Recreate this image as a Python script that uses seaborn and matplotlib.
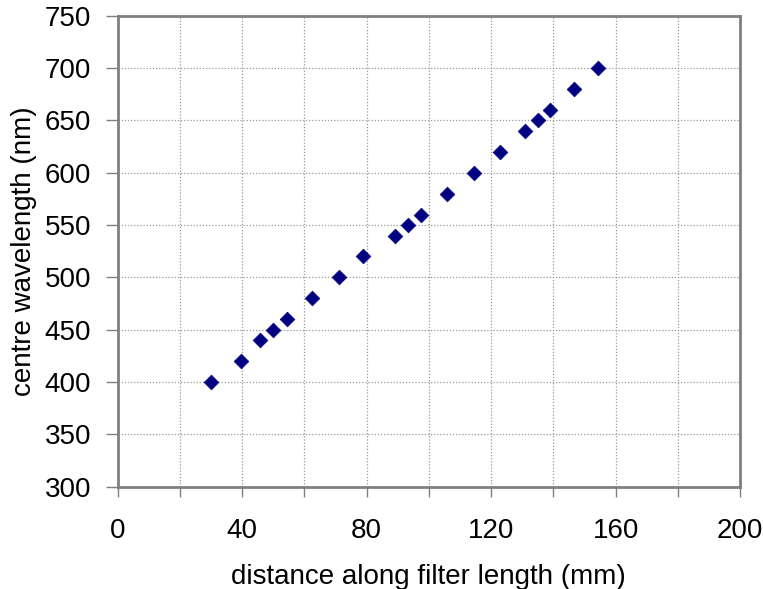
import matplotlib
matplotlib.use("Agg")
import matplotlib.pyplot as plt
import seaborn as sns
import pandas as pd
from matplotlib.ticker import MultipleLocator

distance_mm = [30.0, 39.7, 45.9, 50.0, 54.4, 62.4, 71.1, 78.8, 89.1, 93.2, 97.4,
               105.8, 114.5, 122.8, 130.9, 135.0, 138.9, 146.6, 154.5]
wavelength_nm = [400, 420, 440, 450, 460, 480, 500, 520, 540, 550, 560,
                 580, 600, 620, 640, 650, 660, 680, 700]

df = pd.DataFrame({"distance": distance_mm, "wavelength": wavelength_nm})

sns.set_theme(style="white")
plt.rcParams['font.family'] = ['Liberation Sans', 'DejaVu Sans']

fig = plt.figure(figsize=(7.63, 5.89), dpi=100)
ax = fig.add_axes([0.154, 0.174, 0.816, 0.799])

sns.scatterplot(data=df, x="distance", y="wavelength", marker="D", s=56,
                color="#000080", edgecolor="#000080", linewidth=0.5, ax=ax, zorder=3)

ax.set_xlim(0, 200)
ax.set_ylim(300, 750)
ax.xaxis.set_major_locator(MultipleLocator(40))
ax.xaxis.set_minor_locator(MultipleLocator(20))
ax.yaxis.set_major_locator(MultipleLocator(50))

ax.grid(which="major", axis="both", color="#999999", linestyle=(0, (1, 1.5)), linewidth=0.9)
ax.grid(which="minor", axis="x", color="#999999", linestyle=(0, (1, 1.5)), linewidth=0.9)

for sp in ax.spines.values():
    sp.set_color("#808080")
    sp.set_linewidth(2)
    sp.set_visible(True)

ax.tick_params(axis="both", which="both", direction="out", color="#808080",
               width=1, labelsize=20, labelcolor="black")
ax.tick_params(axis="y", which="major", length=9, pad=10)
ax.tick_params(axis="x", which="major", length=7, pad=16)
ax.tick_params(axis="x", which="minor", length=7)
ax.tick_params(bottom=True, left=True)
ax.tick_params(axis="x", which="minor", bottom=True)

ax.set_xlabel("distance along filter length (mm)", fontsize=20, color="black", labelpad=14)
ax.set_ylabel("centre wavelength (nm)", fontsize=20, color="black", labelpad=5.5)

fig.savefig("out.png", dpi=100, facecolor="white")
